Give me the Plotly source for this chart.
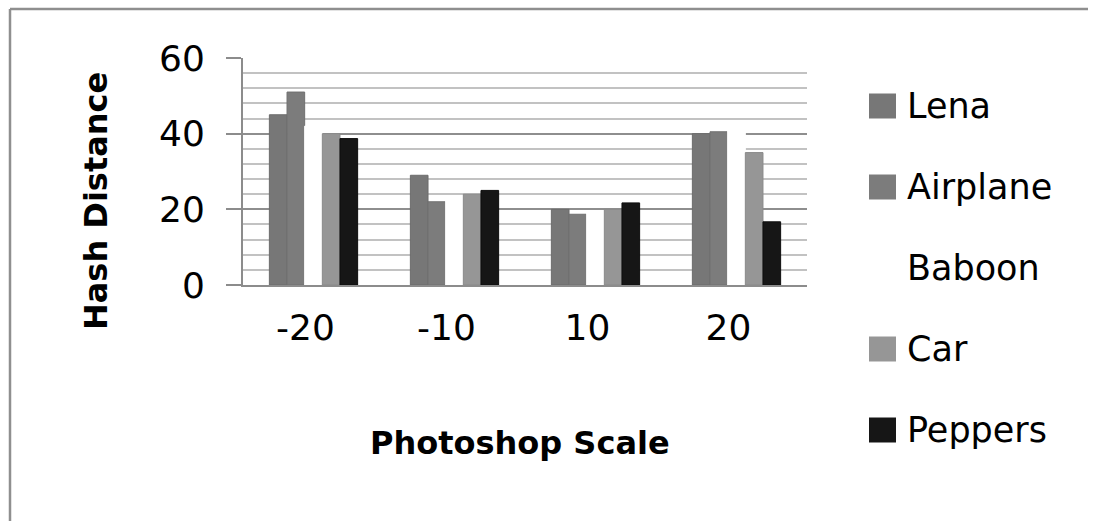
import plotly.graph_objects as go

# Categories and series values
scales = ["-20", "-10", "10", "20"]
series_names = ["Lena", "Airplane", "Baboon", "Car", "Peppers"]
lena = [45, 29, 20, 40]
airplane = [51, 22, 18.7, 40.5]
baboon = [42, 23.5, 19.5, 42]
car = [40, 24, 20, 35]
peppers = [38.7, 25, 21.7, 16.7]
y_ticks = [0, 20, 40, 60]

series_values = [lena, airplane, baboon, car, peppers]
fills = ["#777777", "#7c7c7c", "#ffffff", "#969696", "#161616"]
edges = ["#6c6c6c", "#707070", "#ffffff", "#8a8a8a", "#0e0e0e"]

W, H = 1094, 521
L, R, T, B = 243, 807, 58, 285
FONT = "DejaVu Sans"


def px(x):
    return (x - L) / (R - L)


def py(y):
    return (B - y) / (B - T)


fig = go.Figure()
for name, vals, fc, ec in zip(series_names, series_values, fills, edges):
    fig.add_bar(x=scales, y=vals, name=name, showlegend=False,
                marker=dict(color=fc, line=dict(color=ec, width=1)))

shapes = []
annotations = []

# outer chart frame (left and top edges visible)
shapes.append(dict(type="line", xref="paper", yref="paper",
                   x0=px(10), x1=px(10), y0=py(9), y1=py(H),
                   line=dict(color="#8f8f8f", width=2.5)))
shapes.append(dict(type="line", xref="paper", yref="paper",
                   x0=px(10), x1=px(W - 6), y0=py(9), y1=py(9),
                   line=dict(color="#8f8f8f", width=2.5)))

# legend
leg_y = [106, 187, 268, 349, 430]
for name, fc, yc in zip(series_names, fills, leg_y):
    shapes.append(dict(type="rect", xref="paper", yref="paper",
                       x0=px(869), x1=px(896), y0=py(yc - 12.5), y1=py(yc + 12.5),
                       fillcolor=fc, line=dict(width=0)))
    annotations.append(dict(text=name, xref="paper", yref="paper",
                            x=px(905), y=py(yc), xanchor="left", yanchor="middle",
                            showarrow=False, font=dict(family=FONT, size=35, color="#000000")))

# axis titles
annotations.append(dict(text="<b>Hash Distance</b>", xref="paper", yref="paper",
                        x=px(96), y=py(201), textangle=-90, showarrow=False,
                        xanchor="center", yanchor="middle",
                        font=dict(family=FONT, size=32, color="#000000")))
annotations.append(dict(text="<b>Photoshop Scale</b>", xref="paper", yref="paper",
                        x=px(520), y=py(443), showarrow=False,
                        xanchor="center", yanchor="middle",
                        font=dict(family=FONT, size=32, color="#000000")))

fig.update_layout(
    width=W, height=H,
    margin=dict(l=L, r=W - R, t=T, b=H - B, pad=0),
    paper_bgcolor="white", plot_bgcolor="white",
    barmode="group", bargap=0.374, bargroupgap=0,
    shapes=shapes, annotations=annotations,
    showlegend=False,
    xaxis=dict(type="category", showline=True, linecolor="#8c8c8c", linewidth=2,
               ticks="", showgrid=False, zeroline=False,
               tickfont=dict(family=FONT, size=36, color="#000000"),
               ticklabelstandoff=10, ticklabelshift=-8),
    yaxis=dict(range=[0, 60], tickvals=y_ticks, showline=True, linecolor="#8c8c8c",
               linewidth=2, ticks="outside", ticklen=15, tickwidth=2, tickcolor="#8c8c8c",
               showgrid=True, gridcolor="#8e8e8e", gridwidth=2, zeroline=False,
               minor=dict(dtick=4, showgrid=True, gridcolor="#c2c2c2", gridwidth=2, ticks=""),
               tickfont=dict(family=FONT, size=36, color="#000000"),
               ticklabelstandoff=14),
)

fig.write_html("out.html", config={"displayModeBar": False})
